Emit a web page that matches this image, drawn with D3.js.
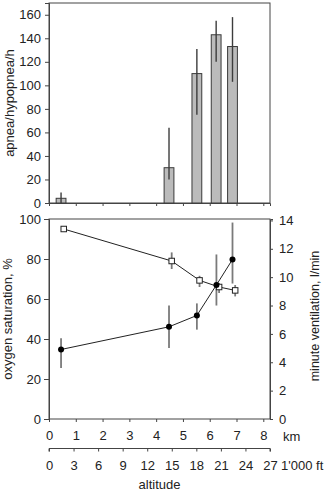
<!DOCTYPE html>
<html>
<head>
<meta charset="utf-8">
<script src="https://cdn.jsdelivr.net/npm/d3@7"></script>
<style>
  body { margin: 0; background: #fff; }
  svg { font-family: "Liberation Sans", Arial, sans-serif; }
</style>
</head>
<body>
<svg id="chart" width="326" height="491"></svg>
<script>
// top panel: apnea/hypopnea index per altitude
const barKm = [0.45, 4.48, 5.52, 6.24, 6.85];
const apnea = [4, 30, 110, 143, 133];
const apneaHi = [9, 64, 131, 155, 158];
const apneaLo = [0, 20, 75, 120, 103];

// bottom panel: minute ventilation (filled) and oxygen saturation (open)
const ventKm = [0.45, 4.48, 5.52, 6.25, 6.85];
const vent = [4.9, 6.5, 7.3, 9.45, 11.25];
const ventHi = [5.7, 8.0, 8.15, 11.6, 13.85];
const ventLo = [3.6, 5.0, 6.3, 8.0, 9.55];

const satKm = [0.55, 4.58, 5.62, 6.35, 6.95];
const sat = [95, 79, 69.3, 66, 64.3];
const satHi = [95, 83.3, 71.6, 68, 67];
const satLo = [95, 75, 66, 63, 61.3];

const kmTicks = [0, 1, 2, 3, 4, 5, 6, 7, 8];
const ftTicks = [0, 3, 6, 9, 12, 15, 18, 21, 24, 27];

const svg = d3.select("#chart");
const axisColor = "#444",
  textColor = "#222",
  fontSize = "13px";
const left = 49,
  right = 270;

const x = d3.scaleLinear().domain([0, 8.25]).range([left, right]);
const xFt = d3.scaleLinear().domain([0, 27]).range([left, right]);
const yTop = d3.scaleLinear().domain([0, 170]).range([203, 3]);
const ySat = d3.scaleLinear().domain([0, 100]).range([419, 219]);
const yVent = d3.scaleLinear().domain([0, 14.1]).range([419, 219]);

const styleAxis = (g) => {
  g.selectAll(".domain").attr("stroke", axisColor);
  g.selectAll(".tick line").attr("stroke", axisColor);
  g.selectAll(".tick text")
    .attr("fill", textColor)
    .style("font-size", fontSize)
    .style("font-family", "'Liberation Sans', Arial, sans-serif");
};

const label = (tx, ty, s, anchor, rotate, size = fontSize) =>
  svg
    .append("text")
    .attr("transform", `translate(${tx},${ty})` + (rotate ? " rotate(-90)" : ""))
    .attr("text-anchor", anchor)
    .attr("fill", textColor)
    .style("font-size", size)
    .text(s);

// ---- top panel ----
svg
  .append("g")
  .attr("transform", `translate(${left},0)`)
  .call(d3.axisLeft(yTop).tickValues(d3.range(0, 161, 20)).tickSize(4).tickPadding(4))
  .call(styleAxis);

svg
  .append("g")
  .attr("transform", `translate(0,${yTop(0)})`)
  .call(d3.axisBottom(x).tickValues(kmTicks).tickSize(3).tickFormat(""))
  .call(styleAxis);

svg
  .append("rect")
  .attr("x", left)
  .attr("y", yTop(170))
  .attr("width", right - left)
  .attr("height", yTop(0) - yTop(170))
  .attr("fill", "none")
  .attr("stroke", axisColor);

const barW = 9.8;
const bars = svg.append("g");
bars
  .selectAll("rect")
  .data(apnea)
  .join("rect")
  .attr("x", (d, i) => x(barKm[i]) - barW / 2)
  .attr("y", (d) => yTop(d))
  .attr("width", barW)
  .attr("height", (d) => yTop(0) - yTop(d))
  .attr("fill", "#bbbbbb")
  .attr("stroke", "#3a3a3a")
  .attr("stroke-width", 1);

bars
  .selectAll("line.up")
  .data(apnea)
  .join("line")
  .attr("class", "up")
  .attr("x1", (d, i) => x(barKm[i]))
  .attr("x2", (d, i) => x(barKm[i]))
  .attr("y1", (d, i) => yTop(apneaHi[i]))
  .attr("y2", (d, i) => yTop(apneaLo[i]))
  .attr("stroke", "#3c3c3c")
  .attr("stroke-width", 1.4);

label(14, 103, "apnea/hypopnea/h", "middle", true);

// ---- bottom panel ----
svg
  .append("g")
  .attr("transform", `translate(${left},0)`)
  .call(d3.axisLeft(ySat).tickValues(d3.range(0, 101, 20)).tickSize(5).tickPadding(3))
  .call(styleAxis);

svg
  .append("g")
  .attr("transform", `translate(${right},0)`)
  .call(d3.axisRight(yVent).tickValues(d3.range(0, 15, 2)).tickSize(3).tickPadding(6))
  .call(styleAxis);

svg
  .append("rect")
  .attr("x", left)
  .attr("y", ySat(100))
  .attr("width", right - left)
  .attr("height", ySat(0) - ySat(100))
  .attr("fill", "none")
  .attr("stroke", axisColor);

svg
  .append("g")
  .attr("transform", `translate(0,${ySat(0)})`)
  .call(d3.axisBottom(x).tickValues(kmTicks).tickSize(3).tickPadding(9).tickFormat(d3.format("d")))
  .call(styleAxis)
  .call((g) => g.select(".domain").remove());

svg
  .append("g")
  .attr("transform", "translate(0,448.5)")
  .call(d3.axisBottom(xFt).tickValues(ftTicks).tickSize(3).tickPadding(9).tickFormat(d3.format("d")))
  .call(styleAxis)
  .call((g) => g.select(".domain").attr("d", `M${left},3V0H${right}V3`));

label(283, 440.5, "km", "start", false);
label(281, 469.5, "1'000 ft", "start", false);
label((left + right) / 2, 489, "altitude", "middle", false);
label(12, 319, "oxygen saturation, %", "middle", true);
label(318.5, 316, "minute ventilation, l/min", "middle", true, "12.5px");

// error bars
const errG = svg.append("g").attr("stroke", "#7a7a7a").attr("stroke-width", 1.8);
errG
  .selectAll("line.v")
  .data(vent)
  .join("line")
  .attr("class", "v")
  .attr("x1", (d, i) => x(ventKm[i]))
  .attr("x2", (d, i) => x(ventKm[i]))
  .attr("y1", (d, i) => yVent(ventHi[i]))
  .attr("y2", (d, i) => yVent(ventLo[i]));
errG
  .selectAll("line.s")
  .data(sat)
  .join("line")
  .attr("class", "s")
  .attr("x1", (d, i) => x(satKm[i]))
  .attr("x2", (d, i) => x(satKm[i]))
  .attr("y1", (d, i) => ySat(satHi[i]))
  .attr("y2", (d, i) => ySat(satLo[i]));

// connecting lines
const satLine = d3
  .line()
  .x((d, i) => x(satKm[i]))
  .y((d) => ySat(d));
const ventLine = d3
  .line()
  .x((d, i) => x(ventKm[i]))
  .y((d) => yVent(d));

svg.append("path").attr("d", satLine(sat)).attr("fill", "none").attr("stroke", "#222").attr("stroke-width", 1);
svg.append("path").attr("d", ventLine(vent)).attr("fill", "none").attr("stroke", "#222").attr("stroke-width", 1);

const sq = 5.5;
svg
  .append("g")
  .selectAll("rect")
  .data(sat)
  .join("rect")
  .attr("x", (d, i) => x(satKm[i]) - sq / 2)
  .attr("y", (d) => ySat(d) - sq / 2)
  .attr("width", sq)
  .attr("height", sq)
  .attr("fill", "#fff")
  .attr("stroke", "#222")
  .attr("stroke-width", 1);

svg
  .append("g")
  .selectAll("circle")
  .data(vent)
  .join("circle")
  .attr("cx", (d, i) => x(ventKm[i]))
  .attr("cy", (d) => yVent(d))
  .attr("r", 3)
  .attr("fill", "#000");
</script>
</body>
</html>
